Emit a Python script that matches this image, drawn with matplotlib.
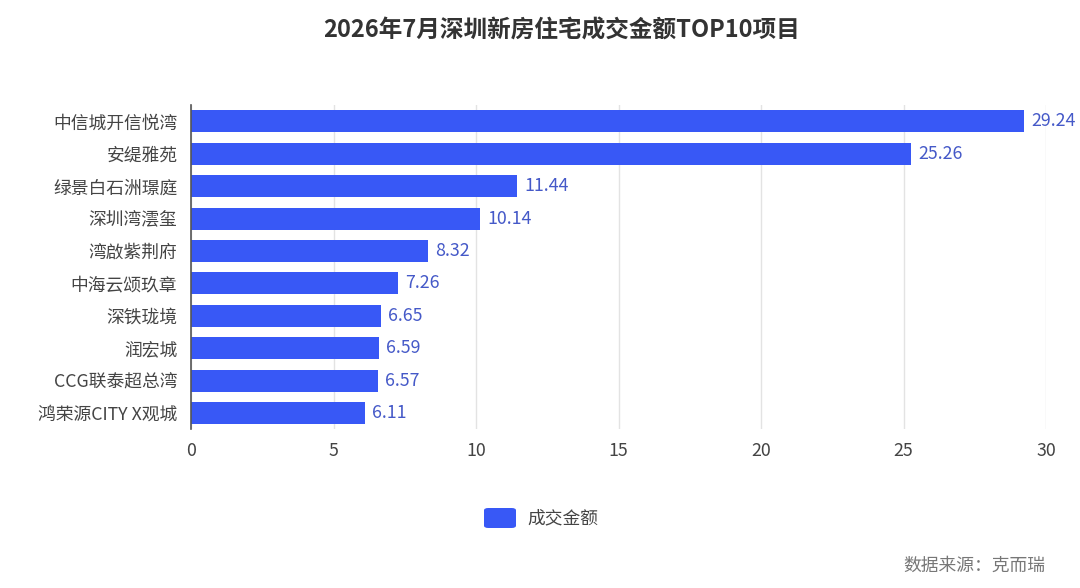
import matplotlib.pyplot as plt
from matplotlib.patches import FancyBboxPatch

plt.rcParams['font.family'] = ['Noto Sans CJK SC', 'DejaVu Sans']

projects = ['中信城开信悦湾', '安缇雅苑', '绿景白石洲璟庭', '深圳湾澐玺', '湾啟紫荆府',
            '中海云颂玖章', '深铁珑境', '润宏城', 'CCG联泰超总湾', '鸿荣源CITY X观城']
amounts = [29.24, 25.26, 11.44, 10.14, 8.32, 7.26, 6.65, 6.59, 6.57, 6.11]
x_ticks = [0, 5, 10, 15, 20, 25, 30]

bar_color = '#3858F6'
label_color = '#4559C8'

fig = plt.figure(figsize=(10.8, 5.88), dpi=100, facecolor='white')
ax = fig.add_axes([0.177, 0.27, 0.7915, 0.551])

ypos = list(range(len(projects)))
ax.barh(ypos, amounts, height=0.68, color=bar_color, zorder=3)
for y, v in zip(ypos, amounts):
    ax.text(v + 0.25, y, f'{v:.2f}', va='center', ha='left', fontsize=12.8,
            color=label_color, zorder=4)

ax.set_yticks(ypos)
ax.set_yticklabels(projects, fontsize=12.8, color='#444444')
ax.set_ylim(len(projects) - 0.5, -0.5)
ax.set_xlim(0, 30)
ax.set_xticks(x_ticks)
ax.set_xticklabels([str(t) for t in x_ticks], fontsize=12.8, color='#444444')
ax.tick_params(axis='both', length=0)
ax.tick_params(axis='x', pad=9)
ax.tick_params(axis='y', pad=10)

ax.grid(axis='x', color='#E3E3E3', lw=1, zorder=0)
for s in ['top', 'right', 'bottom']:
    ax.spines[s].set_visible(False)
ax.spines['left'].set_color('#555555')
ax.spines['left'].set_linewidth(1.2)
ax.spines['left'].set_zorder(5)

fig.text(562 / 1080, 0.948, '2026年7月深圳新房住宅成交金额TOP10项目', ha='center', va='center',
         fontsize=17, fontweight='bold', color='#333333')

# legend
patch = FancyBboxPatch((484 / 1080, 1 - 528 / 588), 32 / 1080, 20 / 588,
                       boxstyle='round,pad=0,rounding_size=0.004', transform=fig.transFigure,
                       facecolor=bar_color, edgecolor='none')
fig.patches.append(patch)
fig.text(527 / 1080, 1 - 518 / 588, '成交金额', ha='left', va='center', fontsize=12.8, color='#444444')

fig.text(1045 / 1080, 1 - 566 / 588, '数据来源：克而瑞', ha='right', va='center',
         fontsize=12.8, color='#777777')

fig.savefig('out.png', dpi=100, facecolor='white')
